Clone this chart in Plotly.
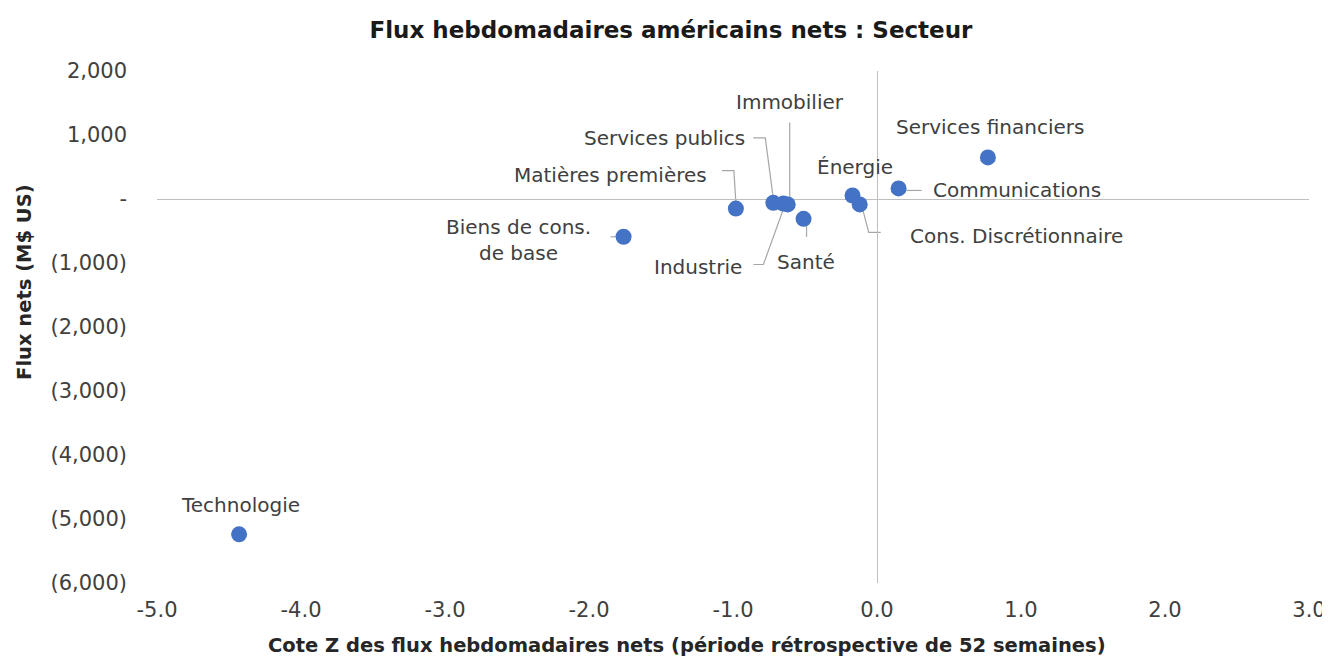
import plotly.graph_objects as go

# secteurs : cote Z (x) et flux nets en M$ US (y)
secteurs = ["Technologie", "Biens de cons.<br>de base", "Matières premières", "Services publics",
            "Industrie", "Immobilier", "Santé", "Énergie", "Cons. Discrétionnaire",
            "Communications", "Services financiers"]
cote_z = [-4.43, -1.76, -0.98, -0.72, -0.65, -0.62, -0.51, -0.17, -0.12, 0.15, 0.77]
flux_nets = [-5240, -590, -150, -60, -70, -85, -310, 55, -85, 165, 650]

y_ticks = [-6000, -5000, -4000, -3000, -2000, -1000, 0, 1000, 2000]
y_ticktext = ["(6,000)", "(5,000)", "(4,000)", "(3,000)", "(2,000)", "(1,000)", "-", "1,000", "2,000"]
x_ticks = [-5, -4, -3, -2, -1, 0, 1, 2, 3]
x_ticktext = ["-5.0", "-4.0", "-3.0", "-2.0", "-1.0", "0.0", "1.0", "2.0", "3.0"]

# placement des étiquettes en pixels par rapport au point (x droite, y bas)
# et tracé de la ligne de repère (coudée comme dans Excel)
etiquettes = {
    "Technologie": ((1, -29), []),
    "Biens de cons.<br>de base": ((-105, 3), [(-13, 0), (-4, 0)]),
    "Matières premières": ((-125, -34), [(-14, -38), (-2, -38), (0, -6)]),
    "Services publics": ((-109, -65), [(-20, -65), (-8, -65), (0, -4)]),
    "Industrie": ((-85, 64), [(-30, 61), (-20, 61), (2, 0)]),
    "Immobilier": ((2, -102), [(2, -82), (2, -3)]),
    "Santé": ((2, 43), [(3, 18), (3, 6)]),
    "Énergie": ((2, -28), []),
    "Cons. Discrétionnaire": ((157, 32), [(21, 28), (9, 28), (3, 5)]),
    "Communications": ((118, 2), [(8, 2), (23, 2)]),
    "Services financiers": ((2, -30), []),
}

FONT = "DejaVu Sans"

fig = go.Figure()
fig.add_trace(go.Scatter(x=cote_z, y=flux_nets, mode="markers",
                         marker=dict(color="#4472C4", size=16), hoverinfo="skip"))

for x, y, name in zip(cote_z, flux_nets, secteurs):
    (dx, dy), path = etiquettes[name]
    fig.add_annotation(x=x, y=y, text=name, showarrow=False,
                       xshift=dx, yshift=-dy, xanchor="center", yanchor="middle",
                       font=dict(size=20, color="#404040", family=FONT))
    if path:
        d = "M " + " L ".join(f"{px} {-py}" for px, py in path)
        fig.add_shape(type="path", path=d, xref="x", yref="y",
                      xsizemode="pixel", ysizemode="pixel", xanchor=x, yanchor=y,
                      line=dict(color="#A6A6A6", width=1.2), layer="below")

# titres des axes centrés sur toute la zone du graphique (comme Excel)
fig.add_annotation(text="<b>Cote Z des flux hebdomadaires nets (période rétrospective de 52 semaines)</b>",
                   xref="paper", yref="paper", x=0.46, y=0, yshift=-62,
                   xanchor="center", yanchor="middle", showarrow=False,
                   font=dict(size=19.5, color="#262626", family=FONT))
fig.add_annotation(text="<b>Flux nets (M$ US)</b>", textangle=-90,
                   xref="paper", yref="paper", x=0, xshift=-132, y=0.588,
                   xanchor="center", yanchor="middle", showarrow=False,
                   font=dict(size=19.5, color="#262626", family=FONT))

# la page ajoute une marge de 8 px autour de la figure
fig.update_layout(
    width=1322, height=650,
    margin=dict(l=149, r=21, t=63, b=75),
    plot_bgcolor="white", paper_bgcolor="white",
    showlegend=False,
    font=dict(family=FONT, color="#404040"),
    title=dict(text="<b>Flux hebdomadaires américains nets : Secteur</b>",
               x=0.5015, xanchor="center", y=0.966, yanchor="middle",
               font=dict(size=23, color="#1a1a1a")),
)
fig.update_xaxes(range=[-5, 3], tickvals=x_ticks, ticktext=x_ticktext, automargin=False,
                 showgrid=False, zeroline=True, zerolinecolor="#BFBFBF", zerolinewidth=1,
                 showline=False, ticks="", ticklabelstandoff=12, ticklabeloverflow="allow",
                 tickfont=dict(size=21, color="#404040"))
fig.update_yaxes(range=[-6000, 2000], tickvals=y_ticks, ticktext=y_ticktext, automargin=False,
                 showgrid=False, zeroline=True, zerolinecolor="#BFBFBF", zerolinewidth=1,
                 showline=False, ticks="", ticklabelstandoff=29,
                 tickfont=dict(size=21, color="#404040"))

fig.write_html("out.html")
